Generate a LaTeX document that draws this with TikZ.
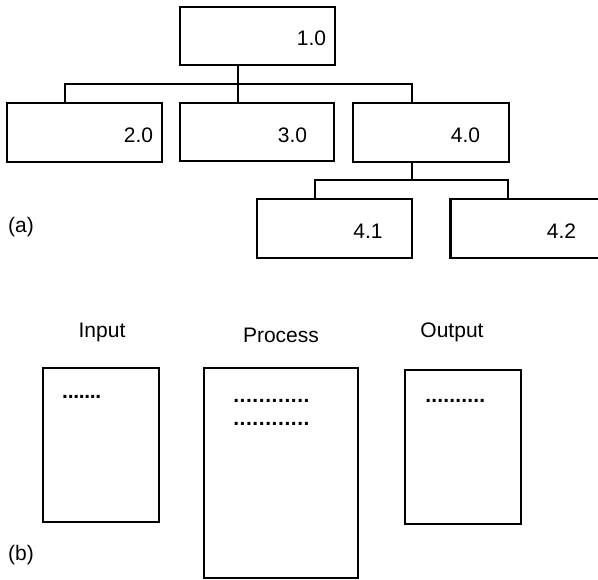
\documentclass[tikz,border=0pt]{standalone}
\usepackage{fontspec}
\setmainfont{Liberation Sans}
% a row of n periods, one every #2
\newcommand{\dotrow}[2]{\hbox to \dimexpr#2*#1\relax{\leaders\hbox to #2{\hss\bfseries.\hss}\hfill}}
\begin{document}
\begin{tikzpicture}[x=1pt, y=-1pt,
  every node/.style={font=\fontsize{21}{25}\selectfont, inner sep=0pt},
  box/.style={draw, line width=2.2pt, rectangle},
  link/.style={line width=1.7pt},
  num/.style={anchor=base},
  dots/.style={anchor=base west}]
\useasboundingbox (0,0) rectangle (598,580);

% (a) hierarchy chart
\node[box, minimum width=155pt, minimum height=58pt] (n1) at (257.5,36) {};
\node[box, minimum width=155pt, minimum height=59pt] (n2) at (84.5,132.5) {};
\node[box, minimum width=154pt, minimum height=58pt] (n3) at (257,132) {};
\node[box, minimum width=156pt, minimum height=59pt] (n4) at (431,132.5) {};
\node[box, minimum width=155pt, minimum height=59pt] (n41) at (334.5,228.5) {};
\node[box, minimum width=155pt, minimum height=59pt] (n42) at (528,228.5) {};

\node[num] (t1) at (311.5,46) {1.0};
\node[num] (t2) at (138.5,143) {2.0};
\node[num] (t3) at (292.5,143) {3.0};
\node[num] (t4) at (465.5,143) {4.0};
\node[num] (t41) at (368,239) {4.1};
\node[num] (t42) at (561.5,239) {4.2};

\coordinate (bus1) at (0,84);
\coordinate (bus2) at (0,180);
\coordinate (s1) at ([xshift=-19.5pt]n1.south);
\coordinate (s2) at ([xshift=-19.5pt]n2.north);
\coordinate (s3) at ([xshift=-19pt]n3.north);
\coordinate (s4) at ([xshift=-19pt]n4.north);
\coordinate (s4b) at ([xshift=-19pt]n4.south);
\coordinate (s41) at ([xshift=-19.5pt]n41.north);
\coordinate (s42) at ([xshift=-20pt]n42.north);

\draw[link] (s1) -- (s3);
\draw[link] (s2) -- (s2 |- bus1) -- (s4 |- bus1) -- (s4);
\draw[link] (s4b) -- (s4b |- bus2);
\draw[link] (s41) -- (s41 |- bus2) -- (s42 |- bus2) -- (s42);

\node (la) at (21,227) {(a)};

% (b) input / process / output sheets
\node[anchor=base] (lin) at (102,338) {Input};
\node[anchor=base] (lpr) at (281,343) {Process};
\node[anchor=base] (lout) at (452,338) {Output};

\node[box, minimum width=116pt, minimum height=154pt] (bin) at (101,445) {};
\node[box, minimum width=154pt, minimum height=210pt] (bpr) at (281,473) {};
\node[box, minimum width=116pt, minimum height=154pt] (bout) at (463,447) {};

\node[dots] (din) at (62.2,398.2) {\dotrow{7}{5.5pt}};
\node[dots] (dpr1) at (232.8,402.2) {\dotrow{12}{6.4pt}};
\node[dots] (dpr2) at (232.8,425.2) {\dotrow{12}{6.4pt}};
\node[dots] (dout) at (425,402.2) {\dotrow{10}{6pt}};

\node (lb) at (21,555) {(b)};
\end{tikzpicture}
\end{document}
